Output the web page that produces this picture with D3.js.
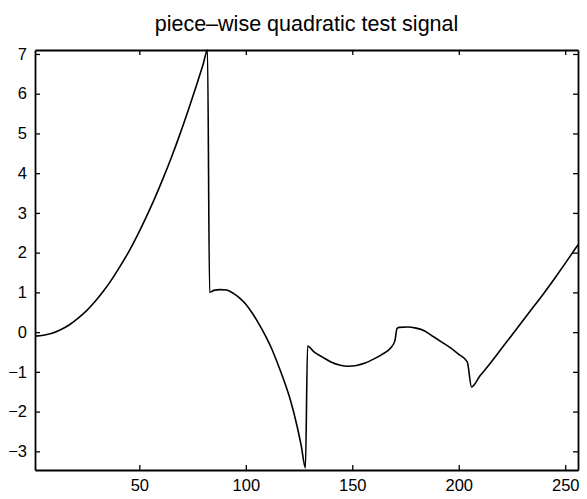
<!DOCTYPE html>
<html><head><meta charset="utf-8">
<script src="https://cdn.jsdelivr.net/npm/d3@7"></script>
<style>body{margin:0;background:#fff}svg{display:block}</style>
</head><body>
<script>
const title = "piece\u2013wise quadratic test signal";
const xTicks = [50, 100, 150, 200, 250];
const yTicks = [-3, -2, -1, 0, 1, 2, 3, 4, 5, 6, 7];
const xDomain = [1, 256];
// sample positions and values
const seg1X = [1,5,9,13,17,21,25,29,33,37,41,45,49,53,57,61,65,69,73,77,80,82];
const seg1Y = [-0.1,-0.08,-0.03,0.06,0.18,0.34,0.53,0.76,1.02,1.32,1.66,2.02,2.43,2.87,3.34,3.85,4.39,4.97,5.59,6.24,6.75,7.1];
const seg2X = [83,85,88,91,94,97,100,103,106,109,112,115,118,121,124,126,128];
const seg2Y = [1.0,1.05,1.07,1.06,0.98,0.86,0.7,0.48,0.22,-0.07,-0.4,-0.8,-1.23,-1.72,-2.35,-2.85,-3.42];
const seg3X = [129,132,136,140,144,148,152,156,160,164,168,170];
const seg3Y = [-0.35,-0.5,-0.63,-0.75,-0.83,-0.86,-0.84,-0.78,-0.68,-0.56,-0.4,-0.22];
const seg4X = [171,172,176,180,184,188,192,196,200,204];
const seg4Y = [0.09,0.12,0.13,0.1,0.03,-0.11,-0.25,-0.39,-0.56,-0.75];
const seg5X = [206,210,215,220,225,230,235,240,245,250,256];
const seg5Y = [-1.38,-1.1,-0.77,-0.42,-0.07,0.28,0.63,0.98,1.35,1.73,2.2];

const allX = [].concat(seg1X, seg2X, seg3X, seg4X, seg5X);
const allY = [].concat(seg1Y, seg2Y, seg3Y, seg4Y, seg5Y);
const data = allX.map((x, i) => ({x, y: allY[i]}));

const W = 587, H = 499;
const m = {left: 35, right: 9, top: 50, bottom: 29};
const svg = d3.select("body").append("svg").attr("width", W).attr("height", H);
const x = d3.scaleLinear().domain(xDomain).range([m.left, W - m.right]);
const y = d3.scaleLinear().domain([-3.47, 7.1]).range([H - m.bottom, m.top]);
const font = "'Liberation Sans', Arial, Helvetica, sans-serif";

svg.append("text").attr("x", (m.left + W - m.right) / 2).attr("y", 31)
  .attr("text-anchor", "middle").attr("font-family", font).attr("font-size", 21.5)
  .attr("fill", "#000").text(title);

const tl = 5;
const g = svg.append("g");
g.append("g").attr("transform", `translate(0,${H - m.bottom})`)
  .call(d3.axisBottom(x).tickValues(xTicks).tickSizeInner(-tl).tickSizeOuter(0).tickPadding(9).tickFormat(d3.format("d")));
g.append("g").attr("transform", `translate(0,${m.top})`)
  .call(d3.axisTop(x).tickValues(xTicks).tickSizeInner(-tl).tickSizeOuter(0).tickFormat(""));
g.append("g").attr("transform", `translate(${m.left},0)`)
  .call(d3.axisLeft(y).tickValues(yTicks).tickSizeInner(-tl).tickSizeOuter(0).tickPadding(8).tickFormat(d3.format("d")));
g.append("g").attr("transform", `translate(${W - m.right},0)`)
  .call(d3.axisRight(y).tickValues(yTicks).tickSizeInner(-tl).tickSizeOuter(0).tickFormat(""));
g.selectAll(".domain").attr("stroke", "#000").attr("stroke-width", 1.8);
g.selectAll(".tick line").attr("stroke", "#000").attr("stroke-width", 1.3);
g.selectAll(".tick text").attr("font-family", font).attr("font-size", 16.5).attr("fill", "#000");

svg.append("path").datum(data)
  .attr("fill", "none").attr("stroke", "#000").attr("stroke-width", 1.6)
  .attr("stroke-linejoin", "round")
  .attr("d", d3.line().x(d => x(d.x)).y(d => y(d.y)).curve(d3.curveMonotoneX));
</script>
</body></html>
